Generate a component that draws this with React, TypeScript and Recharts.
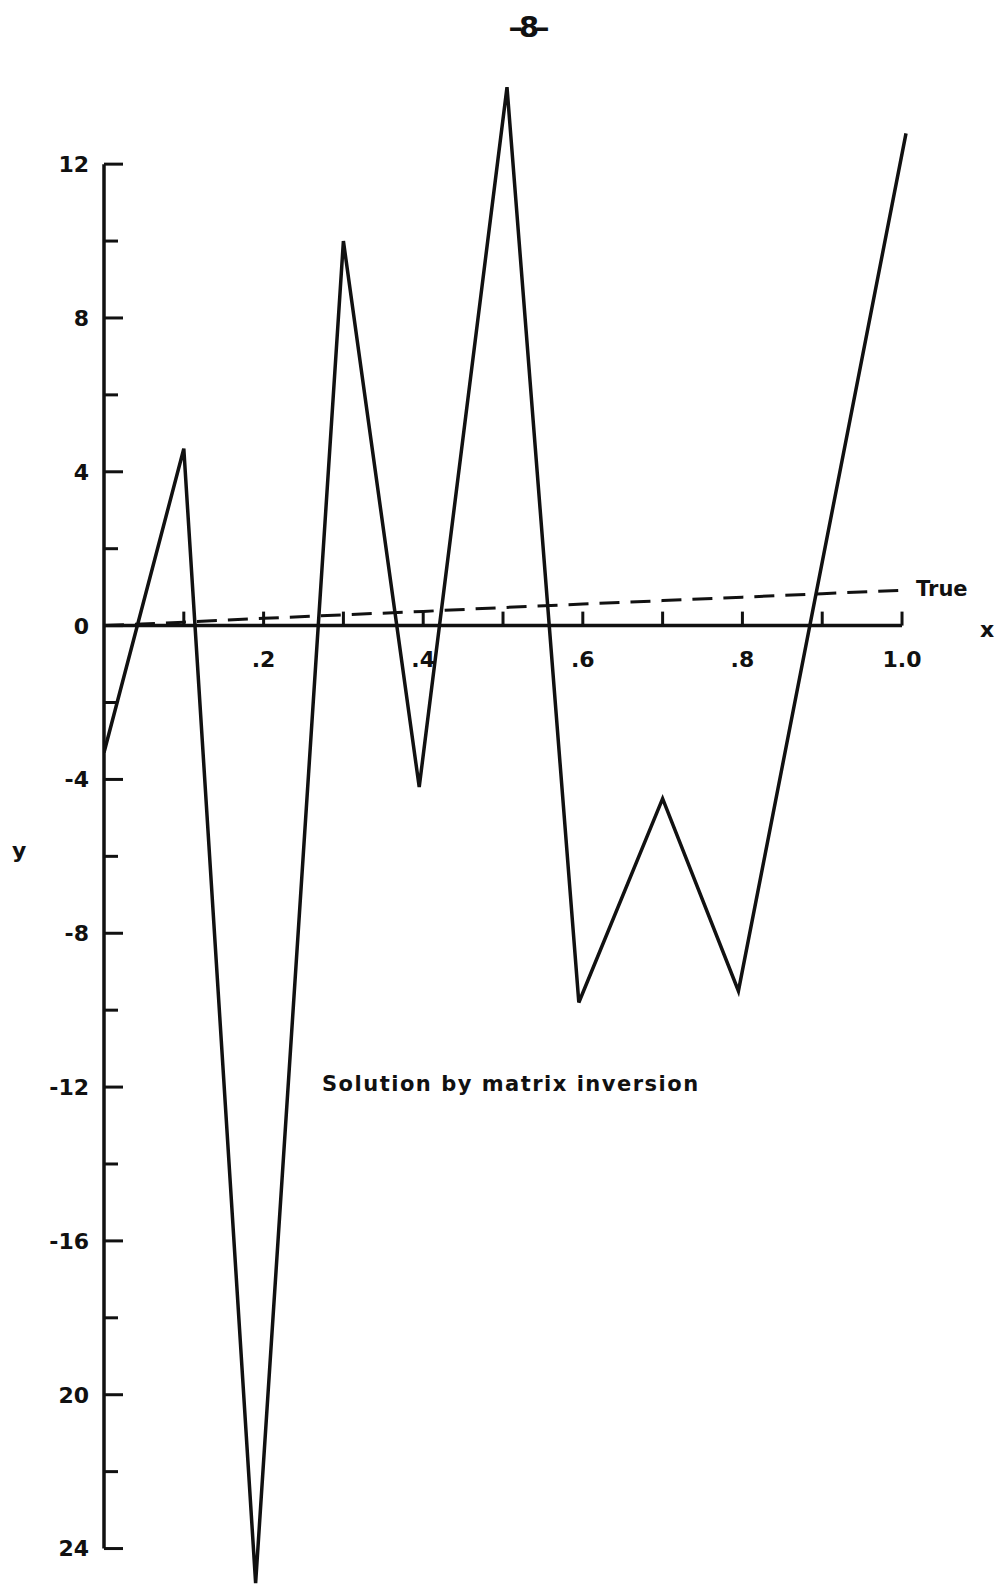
import React from 'react';
import { LineChart, Line, XAxis, YAxis, ReferenceLine, ReferenceDot } from 'recharts';

// x positions of the plotted points, as drawn (nominally every 0.1)
const xValues = [0, 0.1, 0.19, 0.3, 0.395, 0.505, 0.595, 0.7, 0.795, 0.9, 1.005];
// solution by matrix inversion (solid)
const inversionValues = [-3.3, 4.6, -24.9, 10.0, -4.2, 14.0, -9.8, -4.5, -9.5, 1.65, 12.8];
// true solution (dashed)
const trueXValues = [0, 0.1, 0.2, 0.3, 0.4, 0.5, 0.6, 0.7, 0.8, 0.9, 1.0];
const trueValues = [0, 0.09, 0.19, 0.28, 0.37, 0.47, 0.56, 0.65, 0.74, 0.83, 0.92];

const yTicks = [12, 10, 8, 6, 4, 2, 0, -2, -4, -6, -8, -10, -12, -14, -16, -18, -20, -22, -24];
// labels as lettered on the original (the last two lost their minus signs)
const yTickLabels = ['12', '', '8', '', '4', '', '0', '', '-4', '', '-8', '', '-12', '', '-16', '', '20', '', '24'];

const xTicks = [0.1, 0.2, 0.3, 0.4, 0.5, 0.6, 0.7, 0.8, 0.9, 1.0];
const xTickLabels = ['', '.2', '', '.4', '', '.6', '', '.8', '', '1.0'];

const FONT = '"DejaVu Sans", "Noto Sans", sans-serif';
const INK = '#111';

const solutionData = xValues.map((x, i) => ({ x, solution: inversionValues[i] }));
const trueData = trueXValues.map((x, i) => ({ x, exact: trueValues[i] }));

function YTick(props: any) {
  const { x, y, payload } = props;
  const label = yTickLabels[yTicks.indexOf(payload.value)];
  const major = label !== '';
  return (
    <g>
      <line x1={x} y1={y} x2={x + (major ? 19 : 14)} y2={y} stroke={INK} strokeWidth={3} />
      {major && (
        <text x={x - 15} y={y} dy="0.36em" textAnchor="end" fontFamily={FONT} fontWeight="bold" fontSize={22} fill={INK}>
          {label}
        </text>
      )}
    </g>
  );
}

function XTick({ cx, cy, label }: { cx: number; cy: number; label: string }) {
  return (
    <g>
      <line x1={cx} y1={cy} x2={cx} y2={cy - 14} stroke={INK} strokeWidth={3} />
      {label && (
        <text x={cx} y={cy + 41} textAnchor="middle" fontFamily={FONT} fontWeight="bold" fontSize={22} fill={INK}>
          {label}
        </text>
      )}
    </g>
  );
}

export default function App() {
  return (
    <div style={{ position: 'relative', width: 999, height: 1589, background: '#fff' }}>
      <style>{`body { margin: 0; }`}</style>
      <div
        style={{
          position: 'absolute',
          left: 0,
          width: 1054,
          top: 10,
          textAlign: 'center',
          fontFamily: FONT,
          fontWeight: 'bold',
          fontSize: 29,
          color: INK,
          letterSpacing: -4,
        }}
      >
        –8–
      </div>
      <div style={{ position: 'absolute', left: 12, top: 838, fontFamily: FONT, fontWeight: 'bold', fontSize: 22, color: INK }}>
        y
      </div>
      <div
        style={{
          position: 'absolute',
          left: 322,
          top: 1072,
          fontFamily: FONT,
          fontWeight: 'bold',
          fontSize: 21,
          letterSpacing: 1.5,
          color: INK,
          whiteSpace: 'nowrap',
        }}
      >
        Solution by matrix inversion
      </div>
      <div style={{ position: 'absolute', left: 0, top: 0 }}>
        <LineChart width={999} height={1589} margin={{ top: 68, right: 89, bottom: 2, left: 0 }}>
          <XAxis dataKey="x" type="number" domain={[0, 1.01]} hide allowDataOverflow />
          <YAxis
            type="number"
            domain={[-25, 14.5]}
            allowDataOverflow
            ticks={yTicks}
            interval={0}
            width={104}
            axisLine={false}
            tickLine={false}
            tickSize={0}
            tickMargin={0}
            tick={<YTick />}
          />
          <ReferenceLine segment={[{ x: 0, y: -24 }, { x: 0, y: 12 }]} stroke={INK} strokeWidth={3.5} ifOverflow="visible" />
          <ReferenceLine segment={[{ x: 0, y: 0 }, { x: 1, y: 0 }]} stroke={INK} strokeWidth={3.5} ifOverflow="visible" />
          {xTicks.map((t, i) => (
            <ReferenceDot
              key={t}
              x={t}
              y={0}
              r={0}
              ifOverflow="visible"
              shape={(p: any) => <XTick cx={p.cx} cy={p.cy} label={xTickLabels[i]} />}
            />
          ))}
          <ReferenceDot
            x={1}
            y={0}
            r={0}
            ifOverflow="visible"
            shape={(p: any) => (
              <text x={p.cx + 78} y={p.cy + 11} fontFamily={FONT} fontWeight="bold" fontSize={22} fill={INK}>
                x
              </text>
            )}
          />
          <ReferenceDot
            x={1}
            y={trueValues[trueValues.length - 1]}
            r={0}
            ifOverflow="visible"
            shape={(p: any) => (
              <text x={p.cx + 14} y={p.cy + 6} fontFamily={FONT} fontWeight="bold" fontSize={21} fill={INK}>
                True
              </text>
            )}
          />
          <Line
            data={trueData}
            type="linear"
            dataKey="exact"
            stroke={INK}
            strokeWidth={3}
            strokeDasharray="20 11"
            dot={false}
            isAnimationActive={false}
          />
          <Line
            data={solutionData}
            type="linear"
            dataKey="solution"
            stroke={INK}
            strokeWidth={3.5}
            dot={false}
            isAnimationActive={false}
          />
        </LineChart>
      </div>
    </div>
  );
}
